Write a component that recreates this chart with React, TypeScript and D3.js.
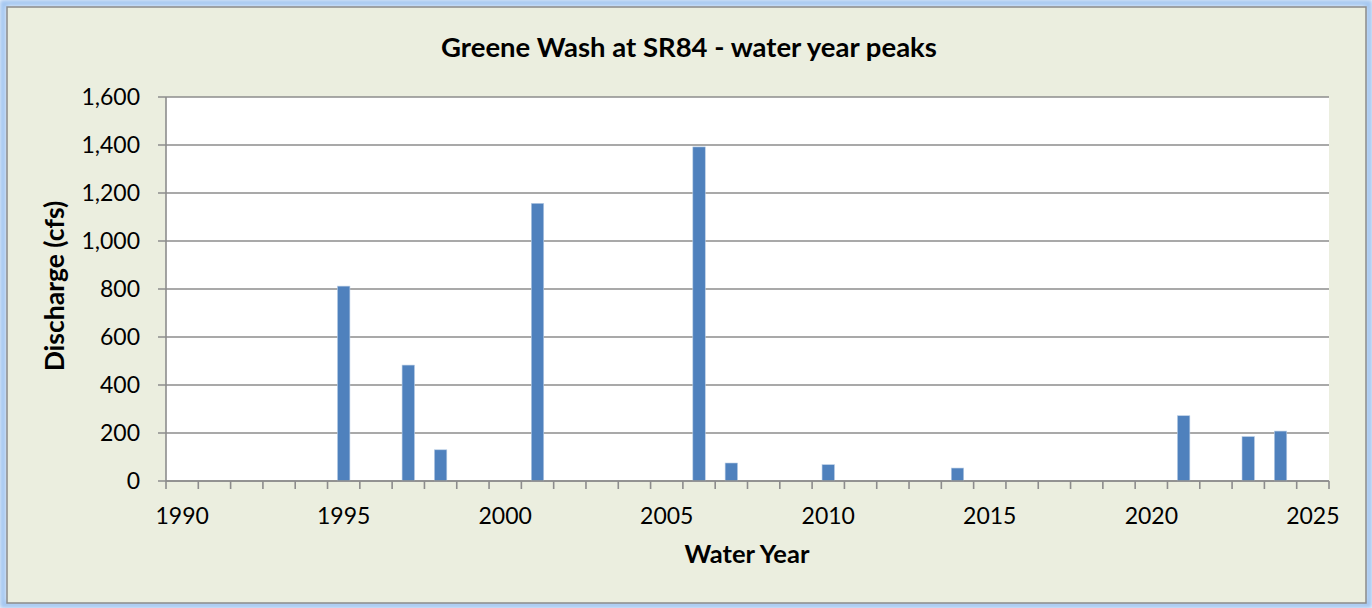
import { useEffect, useRef } from 'react'
import * as d3 from 'd3'

// water year peaks, Greene Wash at SR84 (cfs)
const years = d3.range(1990, 2026).map(String)
const peakYears = ['1995', '1997', '1998', '2001', '2006', '2007', '2010', '2014', '2021', '2023', '2024']
const peakValues = [812, 483, 130, 1157, 1392, 75, 68, 54, 272, 185, 208]
const yTicks = [0, 200, 400, 600, 800, 1000, 1200, 1400, 1600]
const labelYears = ['1990', '1995', '2000', '2005', '2010', '2015', '2020', '2025']

const title = 'Greene Wash at SR84 - water year peaks'
const xTitle = 'Water Year'
const yTitle = 'Discharge (cfs)'

export default function App() {
  const ref = useRef<SVGSVGElement | null>(null)

  useEffect(() => {
    if (!ref.current) return
    const svg = d3.select(ref.current)
    svg.selectAll('*').remove()

    const width = 1372
    const height = 608
    const plot = { left: 166, right: 1329, top: 97, bottom: 481 }
    const font = 'Lato, "Open Sans", sans-serif'

    // outer glow + panel
    const defs = svg.append('defs')
    const glow = defs.append('filter').attr('id', 'glow').attr('x', '-2%').attr('y', '-2%').attr('width', '104%').attr('height', '104%')
    glow.append('feGaussianBlur').attr('stdDeviation', 2)
    svg.append('rect').attr('x', 0).attr('y', 0).attr('width', width).attr('height', height).attr('fill', '#ffffff')
    svg.append('rect').attr('x', 3).attr('y', 3).attr('width', width - 6).attr('height', height - 6)
      .attr('fill', 'none').attr('stroke', '#a3c6f0').attr('stroke-width', 7).attr('filter', 'url(#glow)')
    svg.append('rect').attr('x', 7).attr('y', 7).attr('width', 1359).attr('height', 596)
      .attr('fill', '#ebeedf').attr('stroke', '#8a8a8a').attr('stroke-width', 1.5)

    const x = d3.scaleBand<string>().domain(years).range([plot.left, plot.right]).padding(0)
    const y = d3.scaleLinear().domain([0, 1600]).range([plot.bottom, plot.top])

    svg.append('rect').attr('x', plot.left).attr('y', plot.top)
      .attr('width', plot.right - plot.left).attr('height', plot.bottom - plot.top).attr('fill', '#ffffff')

    // gridlines + y ticks
    const grid = svg.append('g')
    yTicks.forEach(t => {
      grid.append('line').attr('x1', plot.left - 8).attr('x2', plot.right)
        .attr('y1', y(t)).attr('y2', y(t)).attr('stroke', '#8c8c8c').attr('stroke-width', 1.6)
      grid.append('text').attr('x', 140).attr('y', y(t)).attr('dy', '0.36em')
        .attr('text-anchor', 'end').attr('font-family', font).attr('font-size', 23).attr('fill', '#000')
        .text(d3.format(',')(t))
    })

    // y axis line
    svg.append('line').attr('x1', plot.left).attr('x2', plot.left).attr('y1', plot.top).attr('y2', plot.bottom)
      .attr('stroke', '#8c8c8c').attr('stroke-width', 1.6)

    // bars
    const barW = x.bandwidth() * 0.385
    svg.append('g').selectAll('rect').data(peakYears).join('rect')
      .attr('x', d => x(d)! + (x.bandwidth() - barW) / 2)
      .attr('y', (d, i) => y(peakValues[i]))
      .attr('width', barW)
      .attr('height', (d, i) => y(0) - y(peakValues[i]))
      .attr('fill', '#4f81bd')
      .attr('stroke', '#b9cde5').attr('stroke-width', 0.6)

    // x axis
    const xAxis = svg.append('g')
    xAxis.append('line').attr('x1', plot.left).attr('x2', plot.right).attr('y1', plot.bottom).attr('y2', plot.bottom)
      .attr('stroke', '#8c8c8c').attr('stroke-width', 1.6)
    const boundaries = years.map(d => x(d)!).concat([plot.right])
    boundaries.forEach(bx => {
      xAxis.append('line').attr('x1', bx).attr('x2', bx).attr('y1', plot.bottom).attr('y2', plot.bottom + 8)
        .attr('stroke', '#8c8c8c').attr('stroke-width', 1.6)
    })
    labelYears.forEach(ly => {
      xAxis.append('text').attr('x', x(ly)! + x.bandwidth() / 2).attr('y', 524)
        .attr('text-anchor', 'middle').attr('font-family', font).attr('font-size', 23).attr('fill', '#000')
        .text(ly)
    })

    // titles
    svg.append('text').attr('x', 689).attr('y', 56.5).attr('text-anchor', 'middle')
      .attr('font-family', font).attr('font-weight', 'bold').attr('font-size', 27.5).attr('fill', '#000')
      .text(title)
    svg.append('text').attr('x', 747).attr('y', 563).attr('text-anchor', 'middle')
      .attr('font-family', font).attr('font-weight', 'bold').attr('font-size', 25.5).attr('fill', '#000')
      .text(xTitle)
    svg.append('text').attr('transform', 'translate(64,286) rotate(-90)').attr('text-anchor', 'middle')
      .attr('font-family', font).attr('font-weight', 'bold').attr('font-size', 26.5).attr('fill', '#000')
      .text(yTitle)

    svg.attr('width', width).attr('height', height).attr('viewBox', `0 0 ${width} ${height}`)
  }, [])

  return <svg ref={ref} style={{ position: 'absolute', left: 0, top: 0, display: 'block' }}></svg>
}
